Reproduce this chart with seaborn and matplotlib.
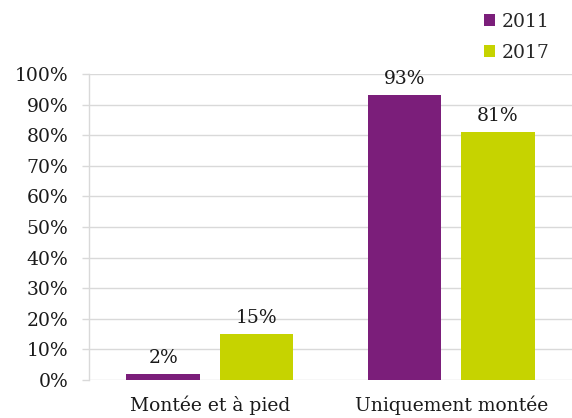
import matplotlib
matplotlib.use("Agg")
import matplotlib.pyplot as plt
import seaborn as sns
import pandas as pd
from matplotlib.patches import Patch
from matplotlib.ticker import FuncFormatter

categories = ["Montée et à pied", "Uniquement montée"]
years = ["2011", "2017"]
values_2011 = [2, 93]
values_2017 = [15, 81]
labels_2011 = ["2%", "93%"]
labels_2017 = ["15%", "81%"]

colors = {"2011": "#7B1E7A", "2017": "#C6D300"}

df = pd.DataFrame({
    "cat": categories * 2,
    "year": ["2011"] * 2 + ["2017"] * 2,
    "val": [v / 100 for v in values_2011 + values_2017],
})

sns.set_theme(style="white")
plt.rcParams["font.family"] = ["DejaVu Serif"]

FS = 13.5

fig = plt.figure(figsize=(5.72, 4.18), dpi=100)
ax = fig.add_axes([89 / 572, 38 / 418, 1 - 89 / 572, (380 - 74) / 418])

sns.barplot(data=df, x="cat", y="val", hue="year", palette=colors,
            width=0.772, gap=0.21, ax=ax, legend=False, saturation=1,
            edgecolor="none")

ax.set_ylim(0, 1.0)
ax.set_yticks([i / 10 for i in range(11)])
ax.yaxis.set_major_formatter(FuncFormatter(lambda v, p: f"{int(round(v * 100))}%"))
ax.set_xlabel("")
ax.set_ylabel("")
ax.grid(axis="y", color="#d9d9d9", linewidth=1)
ax.set_axisbelow(True)
for s in ["top", "right", "bottom"]:
    ax.spines[s].set_visible(False)
ax.spines["left"].set_color("#d9d9d9")
ax.spines["left"].set_linewidth(1)
ax.tick_params(axis="y", length=5, color="#d9d9d9", width=1, pad=10,
               labelsize=FS, left=True, labelcolor="#1a1a1a")
ax.tick_params(axis="x", length=0, pad=11, labelsize=FS, labelcolor="#1a1a1a")

for container, labs in zip(ax.containers, [labels_2011, labels_2017]):
    ax.bar_label(container, labels=labs, padding=5, fontsize=FS, color="#1a1a1a")

handles = [Patch(facecolor=colors[y], edgecolor="none", label=y) for y in years]
fig.legend(handles=handles, loc="upper right", bbox_to_anchor=(0.99, 1.01),
           frameon=False, fontsize=FS, handlelength=0.6, handleheight=0.6,
           handletextpad=0.35, labelspacing=0.7)

fig.savefig("out.png", dpi=100)
